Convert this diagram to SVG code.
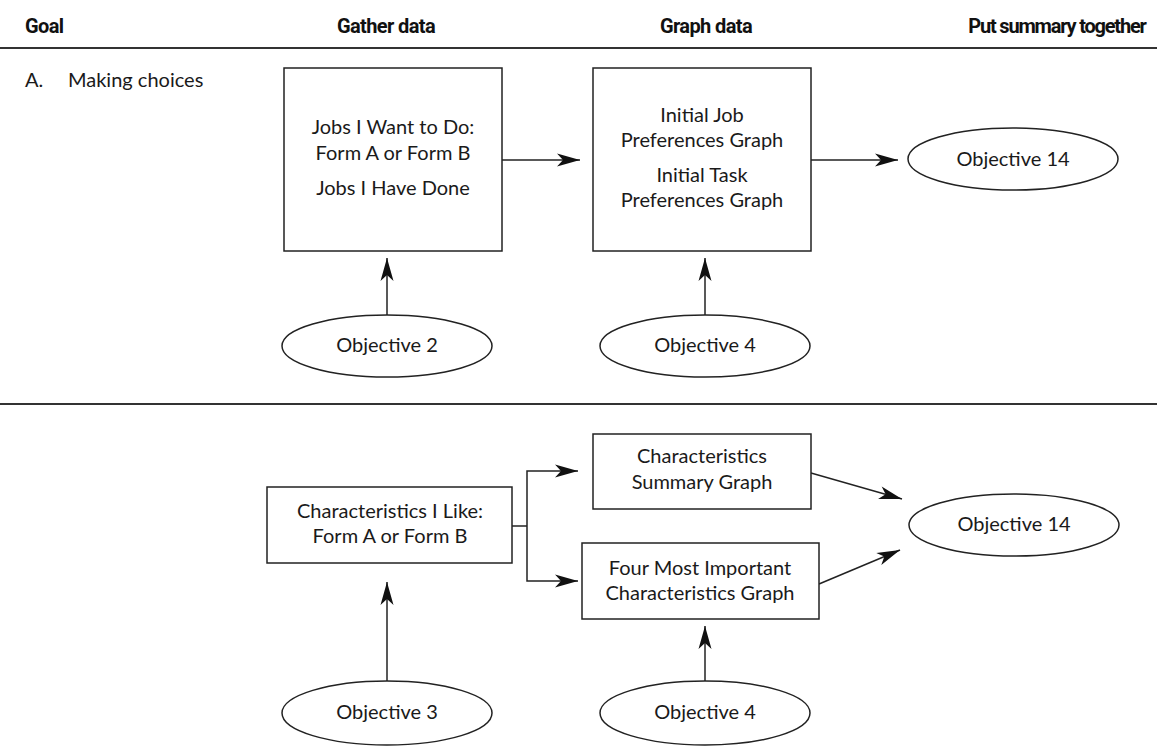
<svg xmlns="http://www.w3.org/2000/svg" width="1157" height="747" viewBox="0 0 1157 747">
<defs>
<marker id="ah" viewBox="-24 -8 26 16" refX="0" refY="0" markerWidth="26" markerHeight="16" markerUnits="userSpaceOnUse" orient="auto">
<path d="M0,0 L-23,-6.5 L-17,0 L-23,6.5 Z" fill="#111"/>
</marker>
<style>
.hd{font-family:"Roboto","Liberation Sans",sans-serif;font-weight:bold;font-size:20px;letter-spacing:-0.6px;fill:#111;text-anchor:middle}
.t{font-family:"Lato","Open Sans",sans-serif;font-size:20px;fill:#1a1a1a;text-anchor:middle}
.tl{font-family:"Lato","Open Sans",sans-serif;font-size:20px;fill:#1a1a1a}
.box{fill:#fff;stroke:#222;stroke-width:1.5}
.ell{fill:#fff;stroke:#222;stroke-width:1.5}
.sep{stroke:#333;stroke-width:2}
.con{fill:none;stroke:#222;stroke-width:1.5}
.arr{fill:none;stroke:#222;stroke-width:1.5;marker-end:url(#ah)}
</style>
</defs>
<rect width="1157" height="747" fill="#fff"/>
<g id="header">
<text class="hd" x="25" y="33" style="text-anchor:start">Goal</text>
<text class="hd" x="386" y="33">Gather data</text>
<text class="hd" x="706" y="33">Graph data</text>
<text class="hd" x="1057" y="33" style="letter-spacing:-1.2px">Put summary together</text>
<line class="sep" x1="0" y1="48" x2="1157" y2="48"/>
<line class="sep" x1="0" y1="404" x2="1157" y2="404"/>
</g>
<g id="label-a">
<text class="tl" x="25" y="87">A.</text>
<text class="tl" x="68" y="87">Making choices</text>
</g>
<g id="connectors">
<line class="arr" x1="502" y1="160" x2="580" y2="160"/>
<line class="arr" x1="811" y1="160" x2="898" y2="160"/>
<line class="arr" x1="387" y1="315" x2="387" y2="258"/>
<line class="arr" x1="705" y1="315" x2="705" y2="258"/>
<polyline class="con" points="512,526 527,526"/>
<polyline class="arr" points="527,526 527,471 578,471"/>
<polyline class="arr" points="527,526 527,581 578,581"/>
<line class="arr" x1="811" y1="473" x2="902" y2="499"/>
<line class="arr" x1="819" y1="584" x2="900" y2="550"/>
<line class="arr" x1="387" y1="681" x2="387" y2="582"/>
<line class="arr" x1="705" y1="681" x2="705" y2="626"/>
</g>
<g id="jobs-box">
<rect class="box" x="284" y="68" width="218" height="183"/>
<text class="t" x="393" y="134">Jobs I Want to Do:</text>
<text class="t" x="393" y="160">Form A or Form B</text>
<text class="t" x="393" y="195">Jobs I Have Done</text>
</g>
<g id="prefs-box">
<rect class="box" x="593" y="68" width="218" height="183"/>
<text class="t" x="702" y="122">Initial Job</text>
<text class="t" x="702" y="147">Preferences Graph</text>
<text class="t" x="702" y="182">Initial Task</text>
<text class="t" x="702" y="207">Preferences Graph</text>
</g>
<g id="obj14-a">
<ellipse class="ell" cx="1013" cy="159" rx="105" ry="31"/>
<text class="t" x="1013" y="166">Objective 14</text>
</g>
<g id="obj2">
<ellipse class="ell" cx="387" cy="346" rx="105" ry="31"/>
<text class="t" x="387" y="352">Objective 2</text>
</g>
<g id="obj4-a">
<ellipse class="ell" cx="705" cy="346" rx="105" ry="31"/>
<text class="t" x="705" y="352">Objective 4</text>
</g>
<g id="char-like-box">
<rect class="box" x="267" y="487" width="245" height="76"/>
<text class="t" x="390" y="518">Characteristics I Like:</text>
<text class="t" x="390" y="543">Form A or Form B</text>
</g>
<g id="char-summary-box">
<rect class="box" x="593" y="434" width="218" height="75"/>
<text class="t" x="702" y="463">Characteristics</text>
<text class="t" x="702" y="489">Summary Graph</text>
</g>
<g id="four-most-box">
<rect class="box" x="582" y="543" width="237" height="76"/>
<text class="t" x="700" y="575">Four Most Important</text>
<text class="t" x="700" y="600">Characteristics Graph</text>
</g>
<g id="obj14-b">
<ellipse class="ell" cx="1014" cy="525" rx="105" ry="31"/>
<text class="t" x="1014" y="531">Objective 14</text>
</g>
<g id="obj3">
<ellipse class="ell" cx="387" cy="713" rx="105" ry="32"/>
<text class="t" x="387" y="719">Objective 3</text>
</g>
<g id="obj4-b">
<ellipse class="ell" cx="705" cy="713" rx="105" ry="32"/>
<text class="t" x="705" y="719">Objective 4</text>
</g>
</svg>
